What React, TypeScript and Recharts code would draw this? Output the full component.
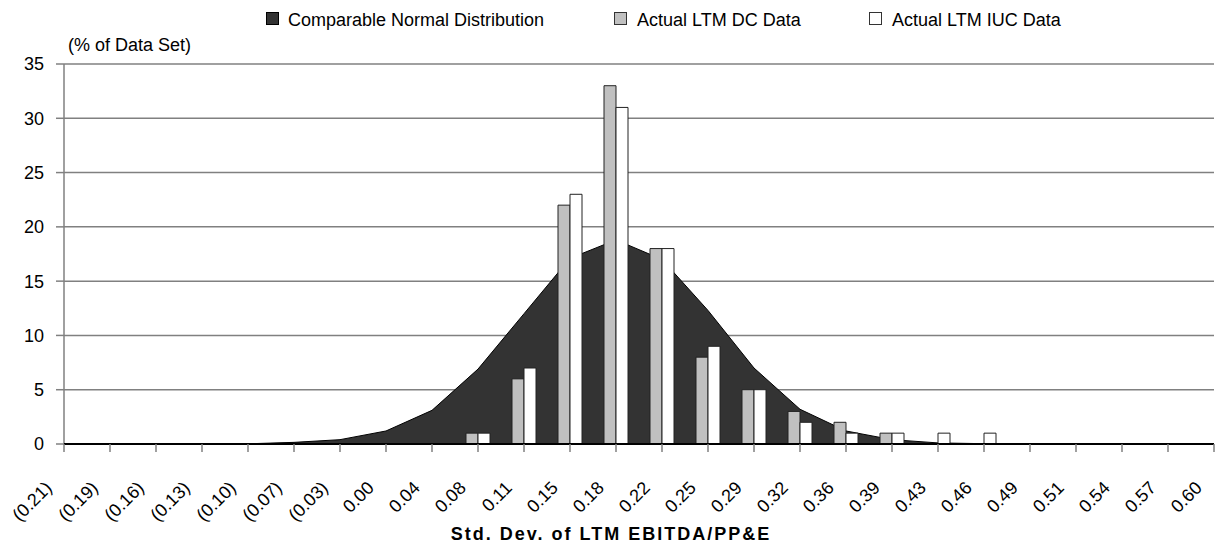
import { ComposedChart, Area, Bar, XAxis, YAxis, CartesianGrid } from "recharts";

const categories = [
  "(0.21)", "(0.19)", "(0.16)", "(0.13)", "(0.10)", "(0.07)", "(0.03)", "0.00", "0.04",
  "0.08", "0.11", "0.15", "0.18", "0.22", "0.25", "0.29", "0.32", "0.36", "0.39",
  "0.43", "0.46", "0.49", "0.51", "0.54", "0.57", "0.60",
];

// comparable normal distribution (% of data set)
const normalDist = [
  0, 0, 0, 0, 0.02, 0.15, 0.4, 1.2, 3.1, 6.9, 12.0, 17.1, 18.8, 17.0, 12.3, 7.0, 3.2,
  1.2, 0.4, 0.1, 0.03, 0, 0, 0, 0, 0,
];

// actual LTM DC data
const dcData = [0, 0, 0, 0, 0, 0, 0, 0, 0, 1, 6, 22, 33, 18, 8, 5, 3, 2, 1, 0, 0, 0, 0, 0, 0, 0];

// actual LTM IUC data
const iucData = [0, 0, 0, 0, 0, 0, 0, 0, 0, 1, 7, 23, 31, 18, 9, 5, 2, 1, 1, 1, 1, 0, 0, 0, 0, 0];

const yTicks = [0, 5, 10, 15, 20, 25, 30, 35];

const FONT = "'Liberation Sans', Arial, sans-serif";

const data = categories.map((label, i) => ({
  i,
  label,
  normal: normalDist[i],
  dc: dcData[i],
  iuc: iucData[i],
}));

function XTick(props: any) {
  const { x, y, payload } = props;
  const ax = x - 11;
  const ay = y + 35;
  return (
    <text
      x={ax}
      y={ay}
      transform={`rotate(-45 ${ax} ${ay})`}
      textAnchor="end"
      fontSize={18}
      fontFamily={FONT}
      fill="#000"
    >
      {categories[payload.value]}
    </text>
  );
}

export default function App() {
  return (
    <div style={{ position: "absolute", left: 0, top: 0, width: 1215, height: 546, background: "#fff" }}>
      <ComposedChart
        width={1215}
        height={546}
        data={data}
        margin={{ top: 64, right: 1, left: 0, bottom: 0 }}
        barGap={0}
      >
        <CartesianGrid vertical={false} stroke="#808080" strokeWidth={1.5} />
        <Area
          type="linear"
          dataKey="normal"
          fill="#333333"
          fillOpacity={1}
          stroke="#000"
          strokeWidth={1}
          dot={false}
          activeDot={false}
          isAnimationActive={false}
        />
        <Bar dataKey="dc" fill="#C0C0C0" stroke="#222" strokeWidth={1} barSize={12} isAnimationActive={false} />
        <Bar dataKey="iuc" fill="#FFFFFF" stroke="#222" strokeWidth={1} barSize={12} isAnimationActive={false} />
        <YAxis
          width={64}
          domain={[0, 35]}
          ticks={yTicks}
          interval={0}
          tickSize={8}
          tickMargin={12}
          axisLine={{ stroke: "#808080", strokeWidth: 1.5 }}
          tickLine={{ stroke: "#808080", strokeWidth: 1.5 }}
          tick={{ fontSize: 18, fill: "#000", fontFamily: FONT }}
        />
        <XAxis
          type="number"
          dataKey="i"
          domain={[0, 25]}
          ticks={categories.map((_, i) => i)}
          interval={0}
          height={102}
          tickSize={8}
          tickMargin={2}
          axisLine={{ stroke: "#000", strokeWidth: 2 }}
          tickLine={{ stroke: "#808080", strokeWidth: 1.5 }}
          tick={<XTick />}
        />
      </ComposedChart>
      <svg
        width={1215}
        height={546}
        style={{ position: "absolute", left: 0, top: 0, pointerEvents: "none" }}
        fontFamily={FONT}
      >
        <rect x={266.5} y={12.5} width={12} height={12} fill="#333333" stroke="#000" />
        <text x={288} y={26} fontSize={18} fill="#000">Comparable Normal Distribution</text>
        <rect x={614.5} y={12.5} width={12} height={12} fill="#C0C0C0" stroke="#333" />
        <text x={637} y={26} fontSize={18} fill="#000">Actual LTM DC Data</text>
        <rect x={869.5} y={12.5} width={12} height={12} fill="#FFFFFF" stroke="#333" />
        <text x={892} y={26} fontSize={18} fill="#000">Actual LTM IUC Data</text>
        <text x={68} y={51} fontSize={18} fill="#000">(% of Data Set)</text>
        <text x={611} y={540} fontSize={18} fontWeight="bold" letterSpacing={2} textAnchor="middle" fill="#000">
          Std. Dev. of LTM EBITDA/PP&amp;E
        </text>
      </svg>
    </div>
  );
}
